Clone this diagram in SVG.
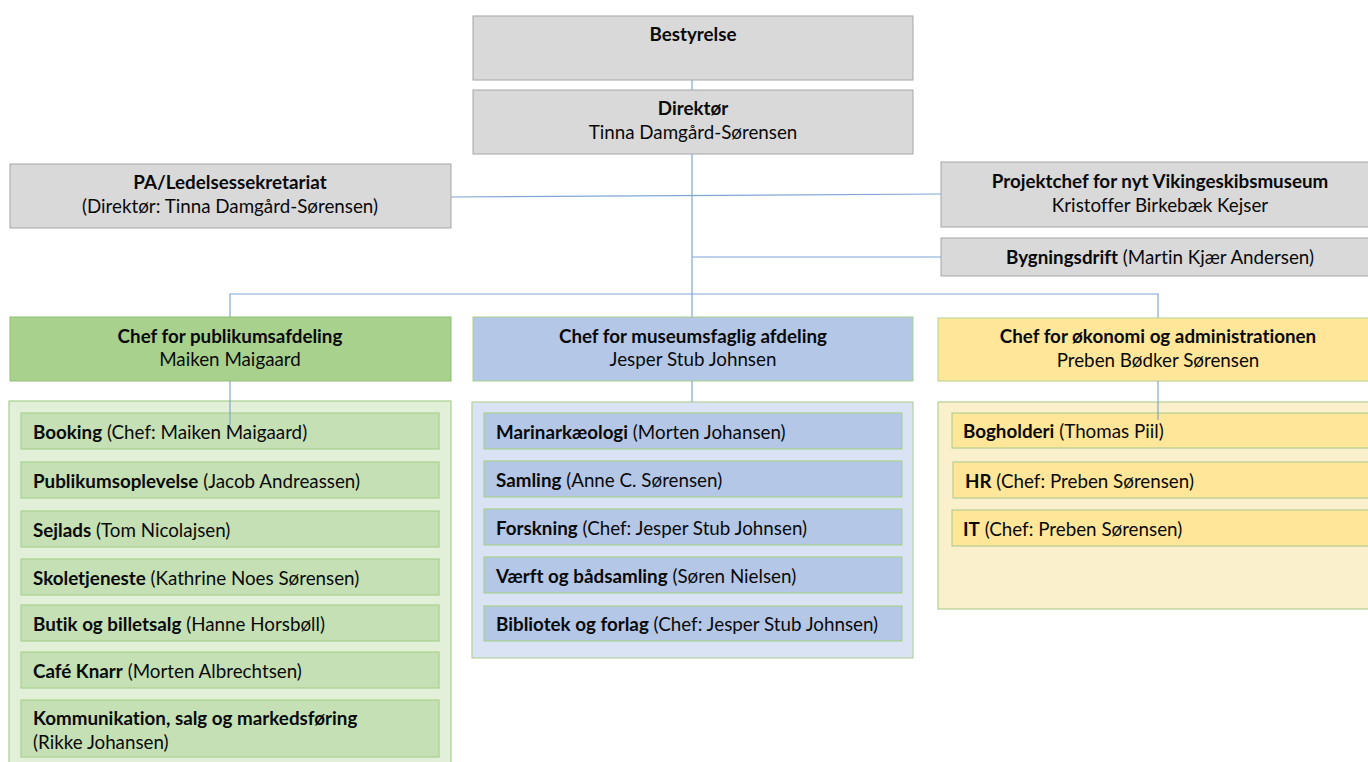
<svg xmlns="http://www.w3.org/2000/svg" width="1368" height="762" viewBox="0 0 1368 762">
<style>
text{font-family:Lato,"Open Sans","Liberation Sans",sans-serif;font-size:18.8px;fill:#0a0a0a;font-variant-ligatures:none}
.c{text-anchor:middle}
.b{font-weight:bold}
.gray{fill:#d9d9d9;stroke:#a6a6a6;stroke-width:1}
.gh{fill:#a9d18e;stroke:#8fbf6e;stroke-width:1}
.bh{fill:#b4c7e7;stroke:#a9d18e;stroke-width:1}
.yh{fill:#ffe699;stroke:#b5cf8f;stroke-width:1}
.gc{fill:#e2efd9;stroke:#a9d18e;stroke-width:1.2}
.bc{fill:#dae3f3;stroke:#b5cfa0;stroke-width:1.2}
.yc{fill:#fbf0cc;stroke:#b5cf8f;stroke-width:1.2}
.gi{fill:#c5e0b4;stroke:#a9d18e;stroke-width:1.2}
.bi{fill:#b4c7e7;stroke:#a9d18e;stroke-width:1.2}
.yi{fill:#ffe699;stroke:#b5cf8f;stroke-width:1.2}
.ln{stroke:#7fa7d6;stroke-width:1.2;fill:none}
</style>
<rect width="1368" height="762" fill="#fff"/>
<g id="bestyrelse"><rect class="gray" x="473" y="16" width="440" height="64"/><text class="c b" x="693" y="41">Bestyrelse</text></g>
<g id="direktor"><rect class="gray" x="473" y="90" width="440" height="64"/><text class="c b" x="693" y="115">Direktør</text><text class="c" x="693" y="139">Tinna Damgård-Sørensen</text></g>
<g id="pa"><rect class="gray" x="10" y="164" width="441" height="64"/><text class="c b" x="230" y="189">PA/Ledelsessekretariat</text><text class="c" x="230" y="213">(Direktør: Tinna Damgård-Sørensen)</text></g>
<g id="projektchef"><rect class="gray" x="941" y="162" width="440" height="65"/><text class="c b" x="1160" y="188">Projektchef for nyt Vikingeskibsmuseum</text><text class="c" x="1160" y="212">Kristoffer Birkebæk Kejser</text></g>
<g id="bygningsdrift"><rect class="gray" x="941" y="238" width="440" height="38"/><text class="c" x="1160" y="264"><tspan class="b">Bygningsdrift</tspan> (Martin Kjær Andersen)</text></g>

<g id="connectors">
<line class="ln" x1="692" y1="80" x2="692" y2="90"/>
<line class="ln" x1="692" y1="154" x2="692" y2="294"/>
<line class="ln" x1="451" y1="197" x2="941" y2="194"/>
<line class="ln" x1="692" y1="257" x2="941" y2="257"/>
<polyline class="ln" points="230,317 230,294 1158,294 1158,318"/>
<line class="ln" x1="692" y1="294" x2="692" y2="317"/>
</g>

<g id="publikum-container"><rect class="gc" x="9" y="401" width="442" height="370"/></g>
<g id="museum-container"><rect class="bc" x="472" y="402" width="441" height="256"/></g>
<g id="okonomi-container"><rect class="yc" x="938" y="402" width="440" height="207"/></g>

<g id="publikum"><rect class="gh" x="10" y="317" width="441" height="64"/><text class="c b" x="230" y="343">Chef for publikumsafdeling</text><text class="c" x="230" y="366">Maiken Maigaard</text></g>
<g id="museum"><rect class="bh" x="473" y="317" width="440" height="64"/><text class="c b" x="693" y="343">Chef for museumsfaglig afdeling</text><text class="c" x="693" y="366">Jesper Stub Johnsen</text></g>
<g id="okonomi"><rect class="yh" x="938" y="318" width="440" height="63"/><text class="c b" x="1158" y="343">Chef for økonomi og administrationen</text><text class="c" x="1158" y="367">Preben Bødker Sørensen</text></g>

<g id="booking"><rect class="gi" x="21" y="413" width="418" height="36"/><text x="33" y="439"><tspan class="b">Booking</tspan> (Chef: Maiken Maigaard)</text></g>
<g id="publikumsoplevelse"><rect class="gi" x="21" y="462" width="418" height="36"/><text x="33" y="488"><tspan class="b">Publikumsoplevelse</tspan> (Jacob Andreassen)</text></g>
<g id="sejlads"><rect class="gi" x="21" y="511" width="418" height="36"/><text x="33" y="537"><tspan class="b">Sejlads</tspan> (Tom Nicolajsen)</text></g>
<g id="skoletjeneste"><rect class="gi" x="21" y="559" width="418" height="36"/><text x="33" y="585"><tspan class="b">Skoletjeneste</tspan> (Kathrine Noes Sørensen)</text></g>
<g id="butik"><rect class="gi" x="21" y="605" width="418" height="36"/><text x="33" y="631"><tspan class="b">Butik og billetsalg</tspan> (Hanne Horsbøll)</text></g>
<g id="cafe"><rect class="gi" x="21" y="652" width="418" height="36"/><text x="33" y="678"><tspan class="b">Café Knarr</tspan> (Morten Albrechtsen)</text></g>
<g id="kommunikation"><rect class="gi" x="21" y="700" width="418" height="57"/><text x="33" y="725" class="b">Kommunikation, salg og markedsføring</text><text x="33" y="749">(Rikke Johansen)</text></g>

<g id="marinarkaeologi"><rect class="bi" x="484" y="413" width="418" height="36"/><text x="496" y="439"><tspan class="b">Marinarkæologi</tspan> (Morten Johansen)</text></g>
<g id="samling"><rect class="bi" x="484" y="461" width="418" height="36"/><text x="496" y="487"><tspan class="b">Samling</tspan> (Anne C. Sørensen)</text></g>
<g id="forskning"><rect class="bi" x="484" y="509" width="418" height="36"/><text x="496" y="535"><tspan class="b">Forskning</tspan> (Chef: Jesper Stub Johnsen)</text></g>
<g id="vaerft"><rect class="bi" x="484" y="557" width="418" height="36"/><text x="496" y="583"><tspan class="b">Værft og bådsamling</tspan> (Søren Nielsen)</text></g>
<g id="bibliotek"><rect class="bi" x="484" y="606" width="418" height="35"/><text x="496" y="631"><tspan class="b">Bibliotek og forlag</tspan> (Chef: Jesper Stub Johnsen)</text></g>

<g id="bogholderi"><rect class="yi" x="952" y="413" width="425" height="35"/><text x="963" y="438"><tspan class="b">Bogholderi</tspan> (Thomas Piil)</text></g>
<g id="hr"><rect class="yi" x="953" y="462" width="425" height="36"/><text x="965" y="488"><tspan class="b">HR</tspan> (Chef: Preben Sørensen)</text></g>
<g id="it"><rect class="yi" x="952" y="510" width="425" height="36"/><text x="963" y="536"><tspan class="b">IT</tspan> (Chef: Preben Sørensen)</text></g>

<g id="connectors-down">
<line class="ln" x1="230" y1="381" x2="230" y2="425"/>
<line class="ln" x1="692" y1="381" x2="692" y2="402"/>
<line class="ln" x1="1158" y1="381" x2="1158" y2="420"/>
</g>
</svg>
